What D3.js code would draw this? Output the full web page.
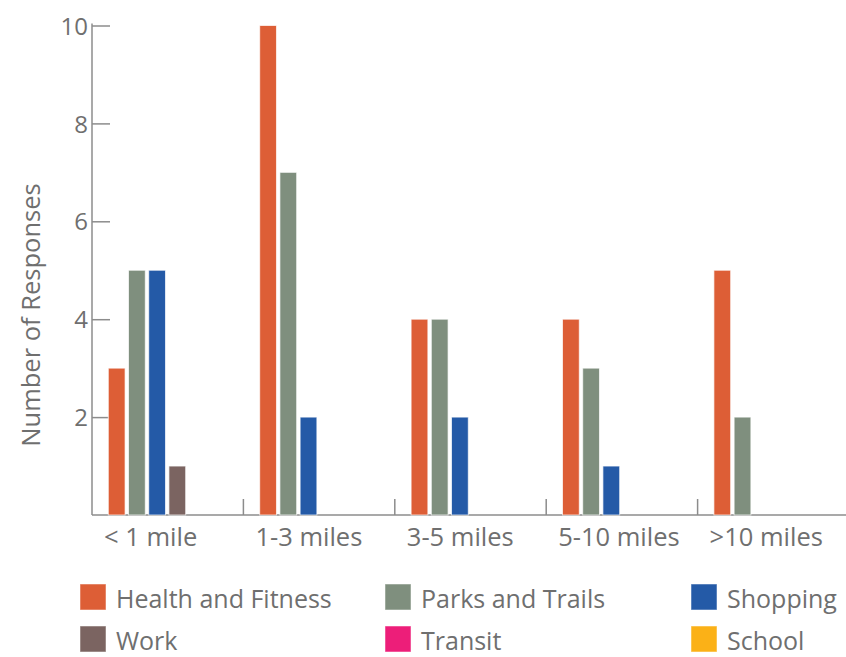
<!DOCTYPE html>
<html>
<head>
<meta charset="utf-8">
<script src="https://cdn.jsdelivr.net/npm/d3@7"></script>
<style>
  html, body { margin: 0; padding: 0; background: #fff; }
  svg { display: block; }
  text { font-family: "Open Sans", "Noto Sans", sans-serif; fill: #6f6f6f; }
</style>
</head>
<body>
<svg id="chart" width="846" height="657"></svg>
<script>
const categories = ["< 1 mile", "1-3 miles", "3-5 miles", "5-10 miles", ">10 miles"];
const seriesNames = ["Health and Fitness", "Parks and Trails", "Shopping", "Work", "Transit", "School"];
const healthFitness = [3, 10, 4, 4, 5];
const parksTrails   = [5, 7, 4, 3, 2];
const shopping      = [5, 2, 2, 1, 0];
const work          = [1, 0, 0, 0, 0];
const transit       = [0, 0, 0, 0, 0];
const school        = [0, 0, 0, 0, 0];
const seriesColors  = ["#DD5E36", "#7F8F7E", "#245AA7", "#7B6461", "#ED1E79", "#FBB117"];
const yTicks = [2, 4, 6, 8, 10];
const yTitle = "Number of Responses";

const seriesValues = [healthFitness, parksTrails, shopping, work, transit, school];

const svg = d3.select("#chart");
const axisColor = "#8c8c8c";

const y = d3.scaleLinear().domain([0, 10]).range([515, 25.5]);
const x0 = d3.scaleBand().domain(categories).range([92, 849]);
const x1 = d3.scaleBand().domain(seriesNames).range([16.3, 134.1]).paddingInner(0.17);
const color = d3.scaleOrdinal().domain(seriesNames).range(seriesColors);

// Y axis (ticks pointing into the plot)
const yAxis = d3.axisLeft(y).tickValues(yTicks).tickSizeInner(-18).tickSizeOuter(0).tickPadding(4);
const yg = svg.append("g").attr("transform", "translate(92,0)").call(yAxis);
yg.select(".domain").attr("stroke", axisColor).attr("stroke-width", 1.5)
  .attr("d", `M0,${y(0)}V${y(10) - 2}`);
yg.selectAll(".tick line").attr("stroke", axisColor).attr("stroke-width", 1.5);
yg.selectAll(".tick text").style("font-size", "24px").attr("fill", "#6f6f6f")
  .style("font-family", '"Open Sans", sans-serif').attr("dy", "0.36em");

// X axis baseline
svg.append("line").attr("x1", 92).attr("x2", 846).attr("y1", y(0)).attr("y2", y(0))
  .attr("stroke", axisColor).attr("stroke-width", 1.5);

// Category separators
svg.selectAll(".sep").data(categories.slice(1)).enter().append("line")
  .attr("class", "sep")
  .attr("x1", d => x0(d)).attr("x2", d => x0(d))
  .attr("y1", y(0)).attr("y2", y(0) - 16)
  .attr("stroke", axisColor).attr("stroke-width", 1.5);

// Bars
const groups = svg.selectAll(".grp").data(categories).enter().append("g")
  .attr("class", "grp").attr("transform", d => `translate(${x0(d)},0)`);
groups.selectAll("rect").data((c, i) => seriesNames.map((s, j) => ({ s, v: seriesValues[j][i] })))
  .enter().append("rect")
  .attr("x", d => x1(d.s))
  .attr("width", x1.bandwidth())
  .attr("y", d => y(d.v))
  .attr("height", d => y(0) - y(d.v))
  .attr("fill", d => color(d.s))
  .attr("stroke", "#fff").attr("stroke-opacity", 0.7).attr("stroke-width", 1);

// X labels
svg.selectAll(".xlab").data(categories).enter().append("text")
  .attr("class", "xlab")
  .attr("x", d => x0(d) + 12)
  .attr("y", 546)
  .style("font-size", "25.5px")
  .text(d => d);

// Y title
svg.append("text")
  .attr("transform", "translate(40,315) rotate(-90)")
  .attr("text-anchor", "middle")
  .style("font-size", "25.5px")
  .text(yTitle);

// Legend
const legendCols = [80, 385, 691];
const legendRows = [584, 626];
const legend = svg.selectAll(".leg").data(seriesNames).enter().append("g")
  .attr("class", "leg")
  .attr("transform", (d, i) => `translate(${legendCols[i % 3]},${legendRows[Math.floor(i / 3)]})`);
legend.append("rect").attr("width", 26).attr("height", 26).attr("fill", d => color(d))
  .attr("stroke", "#fff").attr("stroke-opacity", 0.5);
legend.append("text").attr("x", 36).attr("y", 24).style("font-size", "25px").text(d => d);
</script>
</body>
</html>
